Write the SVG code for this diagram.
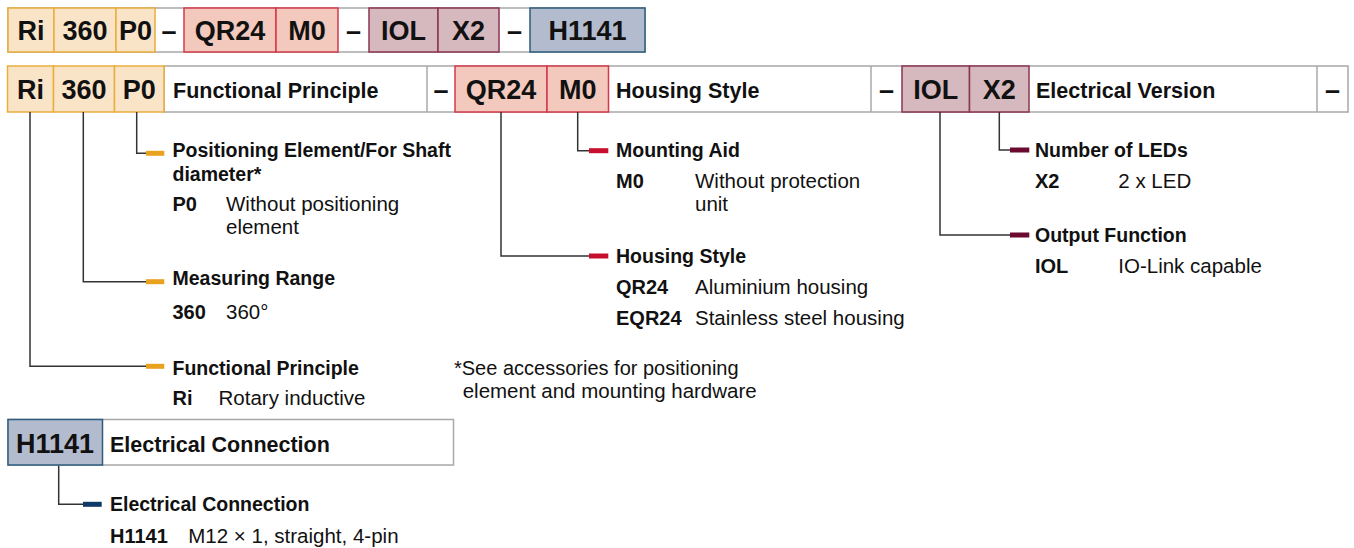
<svg xmlns="http://www.w3.org/2000/svg" width="1354" height="548" viewBox="0 0 1354 548">
<style>
text{font-family:"Liberation Sans",Arial,sans-serif;fill:#111}
.code{font-size:27px;font-weight:bold;text-anchor:middle}
.hdr{font-size:21.5px;font-weight:bold}
.sub{font-size:19.5px;font-weight:bold}
.key{font-size:20px;font-weight:bold}
.desc{font-size:20.5px}
.cell{fill:#fff;stroke:#a8a8a8;stroke-width:1.5}
.y{fill:#f9e4c8;stroke:#e9ae3c;stroke-width:1.5}
.r{fill:#f2c9bc;stroke:#d23a4b;stroke-width:1.5}
.m{fill:#d6b9be;stroke:#8a3553;stroke-width:1.5}
.b{fill:#b3bbcf;stroke:#2d5c7e;stroke-width:1.5}
.ln{fill:none;stroke:#333;stroke-width:1.5}
.by{fill:#e8a21f}.br{fill:#c8102e}.bm{fill:#6b0a2e}.bb{fill:#0d3a66}
</style>
<g id="row1">
<rect class="cell" x="8" y="8" width="637" height="44"/>
<rect class="y" x="8" y="8" width="46" height="44"/><text class="code" x="31" y="40">Ri</text>
<rect class="y" x="54" y="8" width="62" height="44"/><text class="code" x="85" y="40">360</text>
<rect class="y" x="116" y="8" width="39" height="44"/><text class="code" x="135.5" y="40">P0</text>
<text class="code" x="169" y="40">–</text>
<rect class="r" x="184" y="8" width="92" height="44"/><text class="code" x="230" y="40">QR24</text>
<rect class="r" x="276" y="8" width="62" height="44"/><text class="code" x="307" y="40">M0</text>
<text class="code" x="353.5" y="40">–</text>
<rect class="m" x="369" y="8" width="69" height="44"/><text class="code" x="403.5" y="40">IOL</text>
<rect class="m" x="438" y="8" width="61" height="44"/><text class="code" x="468.5" y="40">X2</text>
<text class="code" x="514.5" y="40">–</text>
<rect class="b" x="530" y="8" width="115" height="44"/><text class="code" x="587.5" y="40">H1141</text>
</g>
<g id="row2">
<rect class="cell" x="164" y="66" width="1184" height="46"/>
<line class="cell" x1="427" y1="66" x2="427" y2="112"/>
<line class="cell" x1="871" y1="66" x2="871" y2="112"/>
<line class="cell" x1="1317" y1="66" x2="1317" y2="112"/>
<rect class="y" x="7.5" y="66" width="46" height="46"/><text class="code" x="30.5" y="99">Ri</text>
<rect class="y" x="53.5" y="66" width="61" height="46"/><text class="code" x="84" y="99">360</text>
<rect class="y" x="114.5" y="66" width="49.5" height="46"/><text class="code" x="139.3" y="99">P0</text>
<text class="hdr" x="173" y="98">Functional Principle</text>
<text class="code" x="441" y="99">–</text>
<rect class="r" x="455" y="66" width="92" height="46"/><text class="code" x="501" y="99">QR24</text>
<rect class="r" x="547" y="66" width="61.5" height="46"/><text class="code" x="577.7" y="99">M0</text>
<text class="hdr" x="616" y="98">Housing Style</text>
<text class="code" x="886.5" y="99">–</text>
<rect class="m" x="902" y="66" width="67.5" height="46"/><text class="code" x="935.7" y="99">IOL</text>
<rect class="m" x="969.5" y="66" width="59.5" height="46"/><text class="code" x="999.3" y="99">X2</text>
<text class="hdr" x="1036" y="98">Electrical Version</text>
<text class="code" x="1332.5" y="99">–</text>
</g>
<g id="connectors">
<path class="ln" d="M136.7 112V153.3H146"/>
<path class="ln" d="M83.3 112V281.7H146"/>
<path class="ln" d="M30 112V366.3H146"/>
<path class="ln" d="M577.7 112V150.7H589"/>
<path class="ln" d="M501 112V256H589"/>
<path class="ln" d="M999.3 112V150H1010"/>
<path class="ln" d="M940 112V235H1010"/>
<path class="ln" d="M58.7 465V504.3H83"/>
<rect class="by" x="146" y="150.8" width="18.3" height="5"/>
<rect class="by" x="146" y="279.2" width="18.3" height="5"/>
<rect class="by" x="146" y="363.8" width="18.3" height="5"/>
<rect class="br" x="589" y="148.2" width="19.3" height="5"/>
<rect class="br" x="589" y="253.5" width="19.3" height="5"/>
<rect class="bm" x="1010" y="147.5" width="19.3" height="5"/>
<rect class="bm" x="1010" y="232.5" width="19.3" height="5"/>
<rect class="bb" x="83" y="501.8" width="18.7" height="5"/>
</g>
<g id="positioning">
<text class="sub" x="172.5" y="157">Positioning Element/For Shaft</text>
<text class="sub" x="172.5" y="181">diameter*</text>
<text class="key" x="172.5" y="211">P0</text>
<text class="desc" x="226" y="211">Without positioning</text>
<text class="desc" x="226" y="234">element</text>
</g>
<g id="measuring">
<text class="sub" x="172.5" y="284.5">Measuring Range</text>
<text class="key" x="172.5" y="319">360</text>
<text class="desc" x="226" y="319">360°</text>
</g>
<g id="functional">
<text class="sub" x="172.5" y="374.5">Functional Principle</text>
<text class="key" x="172.5" y="405">Ri</text>
<text class="desc" x="218.5" y="405">Rotary inductive</text>
</g>
<g id="mounting">
<text class="sub" x="616" y="157">Mounting Aid</text>
<text class="key" x="616" y="188">M0</text>
<text class="desc" x="695" y="188">Without protection</text>
<text class="desc" x="695" y="211">unit</text>
</g>
<g id="housing">
<text class="sub" x="616" y="263">Housing Style</text>
<text class="key" x="616" y="293.5">QR24</text>
<text class="desc" x="695" y="293.5">Aluminium housing</text>
<text class="key" x="616" y="325">EQR24</text>
<text class="desc" x="695" y="325">Stainless steel housing</text>
</g>
<g id="footnote">
<text class="desc" x="454" y="374.5" style="font-size:20px">*See accessories for positioning</text>
<text class="desc" x="462.7" y="397.5" style="font-size:20.5px">element and mounting hardware</text>
</g>
<g id="leds">
<text class="sub" x="1035" y="157">Number of LEDs</text>
<text class="key" x="1035" y="187.5">X2</text>
<text class="desc" x="1118.3" y="187.5">2 x LED</text>
</g>
<g id="output">
<text class="sub" x="1035" y="241.5">Output Function</text>
<text class="key" x="1035" y="272.5">IOL</text>
<text class="desc" x="1118.3" y="272.5">IO-Link capable</text>
</g>
<g id="h1141">
<rect class="cell" x="8" y="419.5" width="445.5" height="45.5"/>
<rect class="b" x="8" y="419.5" width="94.5" height="45.5"/>
<text class="code" x="55" y="452.5">H1141</text>
<text class="hdr" x="110" y="451.7">Electrical Connection</text>
</g>
<g id="elecconn">
<text class="sub" x="110" y="511">Electrical Connection</text>
<text class="key" x="110" y="542.5">H1141</text>
<text class="desc" x="188.3" y="542.5">M12 × 1, straight, 4-pin</text>
</g>
</svg>
